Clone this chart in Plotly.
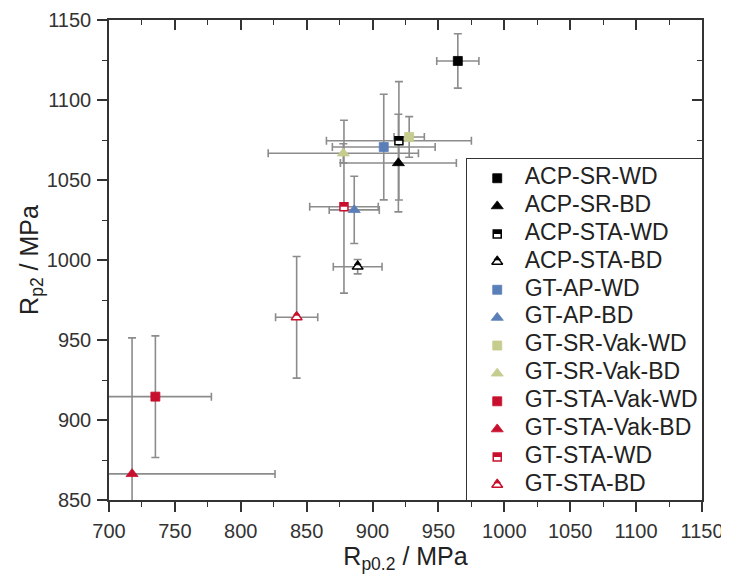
import plotly.graph_objects as go

# series (MPa)
names = ["ACP-SR-WD", "ACP-SR-BD", "ACP-STA-WD", "ACP-STA-BD",
         "GT-AP-WD", "GT-AP-BD", "GT-SR-Vak-WD", "GT-SR-Vak-BD",
         "GT-STA-Vak-WD", "GT-STA-Vak-BD", "GT-STA-WD", "GT-STA-BD"]
rp02 = [964.7, 919.6, 920.0, 888.7, 908.5, 886.1, 927.8, 877.8, 735.2, 717.5, 878.3, 842.4]
rp02_err = [16, 44, 55, 18.5, 39, 19, 11.5, 57, 42.5, 108.5, 26, 16]
rp2 = [1124.4, 1060.6, 1074.5, 995.8, 1070.6, 1031.3, 1076.9, 1066.7, 914.6, 866.3, 1033.3, 964.2]
rp2_err = [17, 30.5, 37, 4.5, 33, 21, 12.7, 6, 38, 85, 54, 38]

# styles
BLUE, OLIVE, RED = "#5a7fb8", "#c6cc8e", "#c8102e"
colors = ["black"] * 4 + [BLUE, BLUE, OLIVE, OLIVE, RED, RED, RED, RED]
shapes = ["square", "triangle", "square", "triangle"] * 2 + ["square", "triangle"] * 2
half = [False, False, True, True] + [False] * 6 + [True, True]

SQ = 9
TRI = 10.5
FONT = "Arial, Liberation Sans, sans-serif"
AX = "#333333"

fig = go.Figure()

# error bars first so the symbols sit on top
fig.add_trace(go.Scatter(
    x=rp02, y=rp2, mode="markers",
    marker=dict(size=1, color="rgba(0,0,0,0)"),
    error_x=dict(type="data", array=rp02_err, color="#8c8c8c", thickness=1.6, width=4),
    error_y=dict(type="data", array=rp2_err, color="#8c8c8c", thickness=1.6, width=4),
    showlegend=False, hoverinfo="skip"))


def add_symbol(x, y, shape, color, is_half, xa="x", ya="y"):
    if shape == "square":
        sym, s = "square", SQ
    else:
        sym, s = "triangle-up", TRI
    if not is_half:
        fig.add_trace(go.Scatter(x=x, y=y, mode="markers", xaxis=xa, yaxis=ya,
                                 marker=dict(symbol=sym, size=s, color=color,
                                             line=dict(width=0.8, color=color)),
                                 showlegend=False, hoverinfo="skip"))
        return
    # white body with coloured outline
    fig.add_trace(go.Scatter(x=x, y=y, mode="markers", xaxis=xa, yaxis=ya,
                             marker=dict(symbol=sym, size=s - 1, color="white",
                                         line=dict(width=1.5, color=color)),
                             showlegend=False, hoverinfo="skip"))
    # filled upper half
    if shape == "square":
        top = dict(symbol="line-ew", size=(s - 1) / 1.4, angle=180, standoff=(s - 1) / 4,
                   line=dict(width=(s - 1) / 2, color=color), color=color)
    else:
        r = (s - 1) / 2
        top = dict(symbol="triangle-down", size=(s - 1) / 2 + 0.8, angle=180,
                   standoff=r * 0.707, color=color, line=dict(width=0.8, color=color))
    fig.add_trace(go.Scatter(x=x, y=y, mode="markers", xaxis=xa, yaxis=ya,
                             marker=top, showlegend=False, hoverinfo="skip"))


for i in range(len(names)):
    add_symbol([rp02[i]], [rp2[i]], shapes[i], colors[i], half[i])

# legend drawn on its own small axes
leg_x = [0.128] * len(names)
for i in range(len(names)):
    add_symbol([leg_x[i]], [names[i]], shapes[i], colors[i], half[i], "x2", "y2")
fig.add_trace(go.Scatter(x=[0.245] * len(names), y=names, mode="text", text=names,
                         textposition="middle right", xaxis="x2", yaxis="y2",
                         textfont=dict(size=23, color="#222222", family=FONT),
                         showlegend=False, hoverinfo="skip"))

# empty trace for the mirrored (inside-tick) axes
fig.add_trace(go.Scatter(x=[None], y=[None], xaxis="x3", yaxis="y3", showlegend=False))

tick_common = dict(showgrid=False, zeroline=False, linecolor=AX, linewidth=1.5,
                   tickcolor=AX, tickwidth=1.5, ticklen=10, automargin=False)
minor_out = dict(ticks="outside", dtick=25, ticklen=5, tickcolor=AX, tickwidth=1.2)
minor_in = dict(ticks="inside", dtick=25, ticklen=5, tickcolor=AX, tickwidth=1.2)

# page body adds 8px offset, so the figure is 8px smaller than the window
fig.update_layout(
    width=721, height=573,
    margin=dict(l=101, r=27, t=12, b=81),
    paper_bgcolor="white", plot_bgcolor="white",
    font=dict(family=FONT, color="#222222"),
    showlegend=False,
    xaxis=dict(range=[700, 1150], dtick=50, ticks="outside", showline=True, mirror=True,
               minor=minor_out, ticklabelstandoff=2,
               tickfont=dict(size=20, color="#333333"),
               title=dict(text="R<sub>p0.2</sub> / MPa", font=dict(size=25), standoff=6),
               **tick_common),
    yaxis=dict(range=[850, 1150], dtick=50, ticks="outside", showline=True, mirror=True,
               minor=minor_out, ticklabelstandoff=2,
               tickfont=dict(size=20, color="#333333"),
               title=dict(text="R<sub>p2</sub> / MPa", font=dict(size=25), standoff=0),
               **tick_common),
    xaxis3=dict(range=[700, 1150], dtick=50, overlaying="x", side="top", ticks="inside",
                showticklabels=False, showline=False, minor=minor_in, **tick_common),
    yaxis3=dict(range=[850, 1150], dtick=50, overlaying="y", side="right", ticks="inside",
                showticklabels=False, showline=False, minor=minor_in, **tick_common),
    xaxis2=dict(domain=[0.604, 1], anchor="y2", range=[0, 1], showline=True, mirror=True,
                linecolor=AX, linewidth=1.3, showgrid=False, zeroline=False,
                showticklabels=False, ticks="", fixedrange=True),
    yaxis2=dict(domain=[0, 0.7104], anchor="x2", type="category",
                categoryorder="array", categoryarray=names, range=[11.54, -0.69],
                showline=True, mirror=True, linecolor=AX, linewidth=1.3, showgrid=False,
                zeroline=False, showticklabels=False, ticks="", fixedrange=True),
)

fig.write_html("out.html")
